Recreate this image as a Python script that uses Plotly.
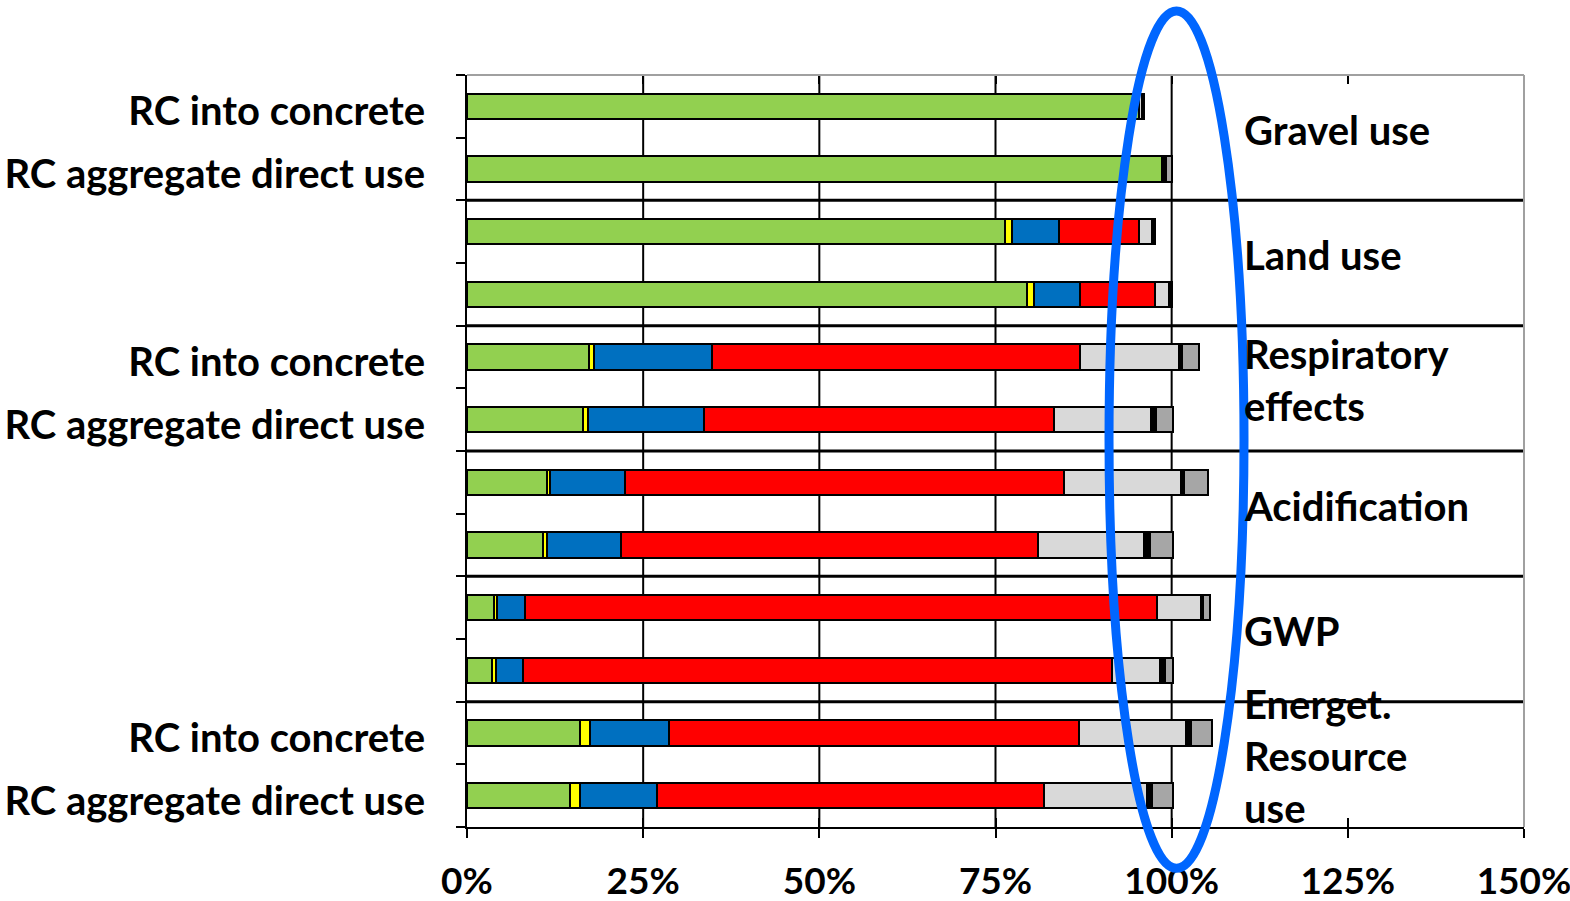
import plotly.graph_objects as go

# Impact categories (two variants each) and the row ids, listed top to bottom
impact_groups = ["Gravel use", "Land use", "Respiratory<br>effects",
                 "Acidification", "GWP", "Energet.<br>Resource<br>use"]
variants = ["RC into concrete", "RC aggregate direct use"]
row_ids = [f"{g}|{v}" for g in ["gravel", "land", "resp", "acid", "gwp", "energy"]
           for v in ["concrete", "direct"]]
row_labels = ["RC into concrete", "RC aggregate direct use",
              "", "",
              "RC into concrete", "RC aggregate direct use",
              "", "",
              "", "",
              "RC into concrete", "RC aggregate direct use"]

# Contribution of each process step, % of reference (one value per row)
share_green = [95.3, 98.6, 76.4, 79.5, 17.3, 16.4, 11.3, 10.8, 3.8, 3.6, 16.1, 14.6]
share_yellow = [0, 0, 0.9, 0.9, 0.7, 0.7, 0.5, 0.6, 0.5, 0.5, 1.4, 1.5]
share_blue = [0, 0, 6.7, 6.6, 16.8, 16.6, 10.6, 10.5, 3.9, 3.9, 11.1, 10.8]
share_red = [0, 0, 11.4, 10.7, 52.2, 49.6, 62.3, 59.2, 89.7, 83.5, 58.2, 55.0]
share_lightgray = [0.5, 0, 1.8, 1.9, 14.1, 13.8, 16.6, 15.0, 6.2, 6.9, 15.3, 14.6]
share_black = [0.3, 0.6, 0.4, 0.4, 0.4, 0.7, 0.5, 0.8, 0.4, 0.6, 0.6, 0.7]
share_darkgray = [0, 0.8, 0, 0, 2.4, 2.4, 3.4, 3.3, 1.0, 1.2, 3.0, 3.0]

x_ticks = [0, 25, 50, 75, 100, 125, 150]
x_ticktext = ["0%", "25%", "50%", "75%", "100%", "125%", "150%"]
grid_pct = [25, 50, 75, 100]
X_RANGE = [0, 150.001]

series = [
    ("Step 1", share_green, "#92D050"),
    ("Step 2", share_yellow, "#FFFF00"),
    ("Step 3", share_blue, "#0070C0"),
    ("Step 4", share_red, "#FF0000"),
    ("Step 5", share_lightgray, "#D9D9D9"),
    ("Step 6", share_black, "#000000"),
    ("Step 7", share_darkgray, "#A6A6A6"),
]

FONT = "Lato"
LABEL_FONT = dict(family=FONT, size=40, color="#000000", weight="bold")
TICK_FONT = dict(family=FONT, size=37, color="#000000", weight="bold")

fig = go.Figure()
for name, vals, color in series:
    fig.add_trace(go.Bar(
        y=row_ids,
        x=[v if v > 0 else None for v in vals],
        orientation="h",
        name=name,
        marker=dict(color=color, line=dict(color="#000000", width=2)),
        width=0.4,
        showlegend=False,
        hoverinfo="x+name",
    ))

# Overlay axis that only supplies the inward half of the x ticks
fig.add_trace(go.Scatter(x=[None], y=[row_ids[0]], xaxis="x2", yaxis="y",
                         mode="markers", showlegend=False, hoverinfo="skip"))

shapes = []
# vertical gridlines
for g in grid_pct:
    shapes.append(dict(type="line", xref="x", yref="paper", x0=g, x1=g, y0=0, y1=1,
                       line=dict(color="#000000", width=2), layer="below"))
# separators between impact categories
for k in range(1, len(impact_groups)):
    yb = 2 * k - 0.5
    shapes.append(dict(type="line", xref="paper", yref="y", x0=0, x1=1, y0=yb, y1=yb,
                       line=dict(color="#000000", width=3), layer="above"))
# frame: top and right edges
shapes.append(dict(type="line", xref="paper", yref="paper", x0=0, x1=1, y0=1, y1=1,
                   line=dict(color="#A0A0A0", width=2)))
shapes.append(dict(type="line", xref="paper", yref="paper", x0=1, x1=1, y0=0, y1=1,
                   line=dict(color="#A0A0A0", width=2)))
# highlight ring around the 100 % line
shapes.append(dict(type="circle", xref="paper", yref="paper",
                   x0=0.6074, x1=0.7351, y0=-0.055, y1=1.085,
                   line=dict(color="#0066FF", width=9), layer="above"))

annotations = []
for k, g in enumerate(impact_groups):
    annotations.append(dict(
        x=110, y=2 * k + 0.5, xref="x", yref="y", text=g, showarrow=False,
        xanchor="left", yanchor="middle", align="left", yshift=8,
        font=LABEL_FONT,
    ))

fig.update_layout(
    width=1570, height=901,
    margin=dict(l=467, r=46, t=75, b=74),
    plot_bgcolor="#FFFFFF", paper_bgcolor="#FFFFFF",
    barmode="stack", bargap=0.6,
    font=LABEL_FONT,
    xaxis=dict(range=X_RANGE, tickvals=x_ticks, ticktext=x_ticktext,
               automargin=False, ticklabeloverflow="allow",
               showgrid=False, zeroline=False, showline=True, linecolor="#000000",
               linewidth=2, ticks="outside", ticklen=9, tickwidth=2,
               tickcolor="#000000", ticklabelstandoff=12, tickfont=TICK_FONT),
    xaxis2=dict(range=X_RANGE, overlaying="x", side="bottom", tickvals=x_ticks,
                showticklabels=False, showgrid=False, zeroline=False, showline=False,
                automargin=False, ticks="inside", ticklen=9, tickwidth=2,
                tickcolor="#000000", mirror="ticks"),
    yaxis=dict(type="category", categoryorder="array", categoryarray=row_ids,
               range=[len(row_ids) - 0.5, -0.5], autorange=False,
               tickvals=row_ids, ticktext=row_labels,
               automargin=False,
               tickson="boundaries", ticks="outside", ticklen=9, tickwidth=2,
               tickcolor="#000000", showline=True, linecolor="#000000", linewidth=2,
               showgrid=False, zeroline=False, ticklabelstandoff=32,
               ticklabelshift=-5, tickfont=LABEL_FONT),
    shapes=shapes,
    annotations=annotations,
)

fig.write_html("out.html")
